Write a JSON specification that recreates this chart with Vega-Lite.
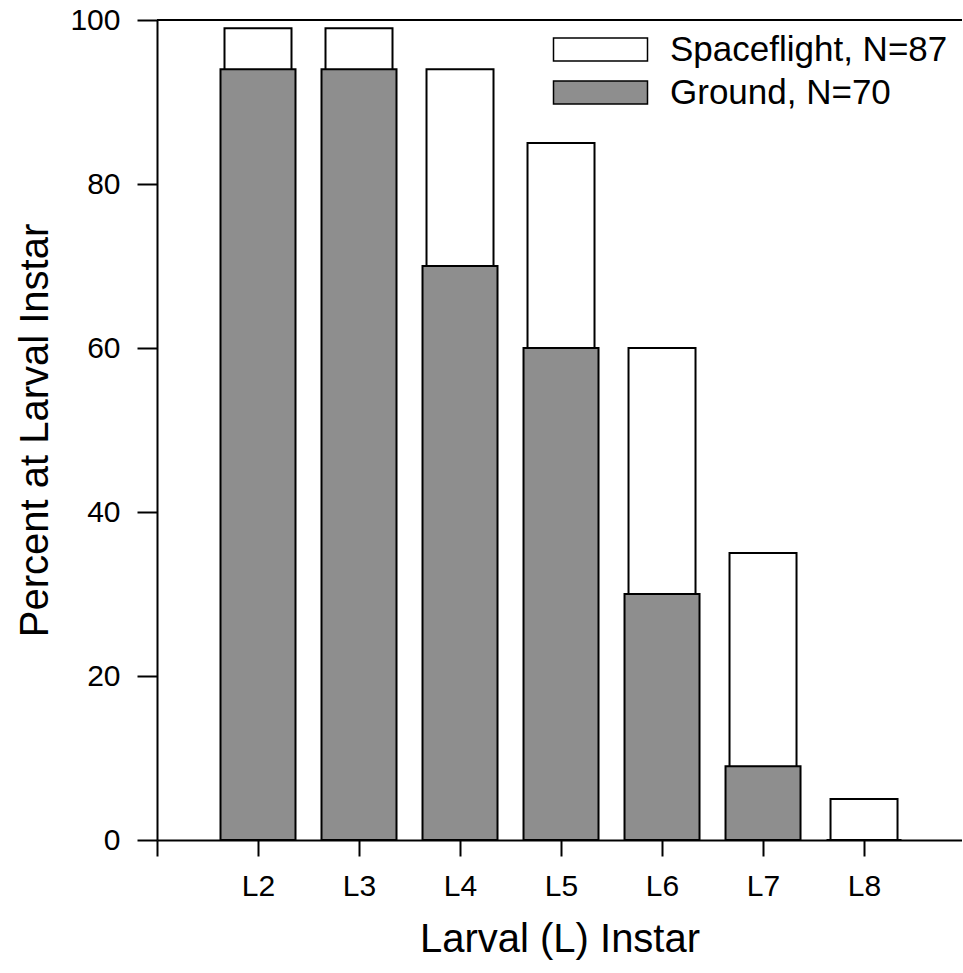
{
  "$schema": "https://vega.github.io/schema/vega-lite/v6.json",
  "autosize": {"type": "none"},
  "padding": {"left": 157, "top": 20, "right": 0, "bottom": 133},
  "width": 805,
  "height": 820,
  "background": "white",
  "config": {
    "view": {"stroke": null},
    "font": "Liberation Sans",
    "axis": {"domainColor": "black", "domainWidth": 2, "tickColor": "black", "tickWidth": 2, "labelColor": "black", "titleColor": "black", "labelFont": "Liberation Sans", "titleFont": "Liberation Sans", "titleFontWeight": "normal", "grid": false}
  },
  "data": {
    "values": [
      {"instar": 2, "group": "Spaceflight, N=87", "pct": 99},
      {"instar": 3, "group": "Spaceflight, N=87", "pct": 99},
      {"instar": 4, "group": "Spaceflight, N=87", "pct": 94},
      {"instar": 5, "group": "Spaceflight, N=87", "pct": 85},
      {"instar": 6, "group": "Spaceflight, N=87", "pct": 60},
      {"instar": 7, "group": "Spaceflight, N=87", "pct": 35},
      {"instar": 8, "group": "Spaceflight, N=87", "pct": 5},
      {"instar": 2, "group": "Ground, N=70", "pct": 94},
      {"instar": 3, "group": "Ground, N=70", "pct": 94},
      {"instar": 4, "group": "Ground, N=70", "pct": 70},
      {"instar": 5, "group": "Ground, N=70", "pct": 60},
      {"instar": 6, "group": "Ground, N=70", "pct": 30},
      {"instar": 7, "group": "Ground, N=70", "pct": 9},
      {"instar": 8, "group": "Ground, N=70", "pct": 0}
    ]
  },
  "encoding": {
    "x": {
      "field": "instar", "type": "quantitative",
      "scale": {"domain": [1, 8.97], "nice": false, "zero": false, "padding": 0},
      "axis": {
        "title": "Larval (L) Instar", "titleFontSize": 40, "titlePadding": 18,
        "values": [1, 2, 3, 4, 5, 6, 7, 8],
        "labelExpr": "datum.value == 1 ? '' : 'L' + datum.value",
        "labelFontSize": 30, "tickSize": 16, "labelPadding": 15
      }
    },
    "y": {
      "field": "pct", "type": "quantitative",
      "scale": {"domain": [0, 100], "nice": false, "padding": 0},
      "axis": {
        "title": "Percent at Larval Instar", "titleFontSize": 40, "titlePadding": 14,
        "values": [0, 20, 40, 60, 80, 100],
        "labelFontSize": 30, "tickSize": 20, "labelPadding": 17
      }
    }
  },
  "layer": [
    {
      "transform": [{"filter": "datum.group == 'Spaceflight, N=87'"}],
      "mark": {"type": "bar", "size": 67, "stroke": "black", "strokeWidth": 2, "opacity": 1},
      "encoding": {
        "color": {
          "field": "group", "type": "nominal",
          "scale": {"domain": ["Spaceflight, N=87", "Ground, N=70"], "range": ["white", "#8e8e8e"]},
          "legend": {
            "title": null, "orient": "none", "legendX": 419, "legendY": 5, "padding": 0,
            "symbolType": "M-2,-0.49H2V0.49H-2Z", "symbolSize": 2209,
            "symbolStrokeColor": "black", "symbolStrokeWidth": 1.5, "symbolOpacity": 1,
            "labelFontSize": 35, "labelColor": "black", "labelFont": "Liberation Sans",
            "labelOffset": 45, "rowPadding": -12, "labelLimit": 400
          }
        }
      }
    },
    {
      "transform": [{"filter": "datum.group == 'Ground, N=70'"}],
      "mark": {"type": "bar", "size": 75, "stroke": "black", "strokeWidth": 2, "opacity": 1},
      "encoding": {"color": {"field": "group", "type": "nominal"}}
    },
    {
      "mark": {"type": "rule", "color": "black", "strokeWidth": 2},
      "encoding": {"y": {"datum": 100}, "x": null}
    }
  ]
}
